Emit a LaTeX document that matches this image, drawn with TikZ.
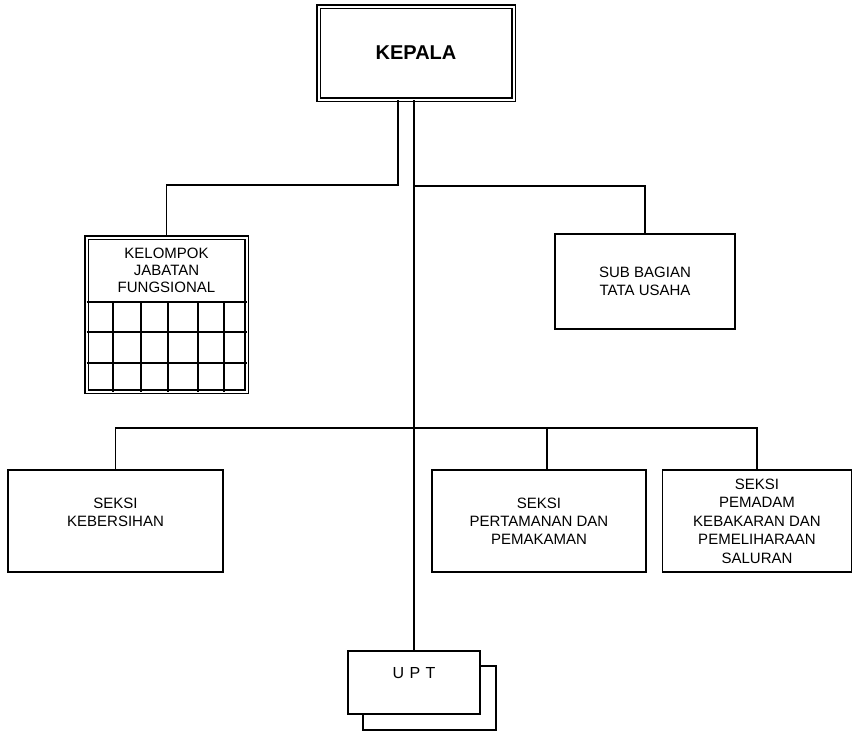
\documentclass[tikz,border=0pt]{standalone}
\usepackage{fontspec}
\setmainfont{Liberation Sans}
\begin{document}
\begin{tikzpicture}[x=1pt,y=-1pt,line width=1.3pt,
  box/.style={draw, rectangle, inner sep=0pt, align=center, font=\fontsize{15}{18}\selectfont},
  dbox/.style={box, double, double distance=2pt, line width=1.2pt},
  txt/.style={inner sep=0pt, align=center, font=\fontsize{15}{17}\selectfont}]
\useasboundingbox (0,0) rectangle (853,732);

% KEPALA
\node[dbox, minimum width=195pt, minimum height=93pt, font=\bfseries\fontsize{20}{24}\selectfont] (kepala) at (416,53) {KEPALA};

% Kelompok Jabatan Fungsional
\node[dbox, minimum width=160pt, minimum height=154pt] (kjf) at (166.5,314.5) {};
\node[txt] (kjft) at (166.5,270) {KELOMPOK\\JABATAN\\FUNGSIONAL};
\draw (86.5,302) -- (246.5,302);
\draw (86.5,332) -- (246.5,332);
\draw (86.5,363) -- (246.5,363);
\foreach \gx in {113,141,168,198,224} \draw (\gx,302) -- (\gx,391.5);

% Sub Bagian Tata Usaha
\node[box, minimum width=180pt, minimum height=95pt] (sub) at (645,281.5) {SUB BAGIAN\\TATA USAHA};

% Seksi
\node[box, minimum width=215pt, minimum height=102pt] (keb) at (115.5,521) {SEKSI\\KEBERSIHAN\\[0pt]\mbox{}};
\node[box, minimum width=214pt, minimum height=102pt] (pert) at (539,521) {SEKSI\\PERTAMANAN DAN\\PEMAKAMAN};
\node[box, minimum width=189pt, minimum height=102pt, font=\fontsize{15}{18.5}\selectfont] (pem) at (757,521) {SEKSI\\PEMADAM\\KEBAKARAN DAN\\PEMELIHARAAN\\SALURAN};

% UPT
\node[box, minimum width=133pt, minimum height=64pt] (uptb) at (429.5,698) {};
\node[box, fill=white, minimum width=132pt, minimum height=63pt] (upt) at (414,682.5) {};
\node[inner sep=0pt, font=\fontsize{16}{18}\selectfont] (upttxt) at (414,673) {U\hspace{5.5pt}P\hspace{5.5pt}T};

% connectors
\coordinate (b1) at (398,185);
\coordinate (b2) at (414,186);
\coordinate (b3) at (414,428);
\draw (kepala.south -| b1) -- (b1) -| (kjf.north);
\draw (kepala.south -| upt.north) -- (upt.north);
\draw (b2) -| (sub.north);
\draw (keb.north) -- (keb.north |- b3) -- (pem.north |- b3) -- (pem.north);
\draw ([xshift=8pt]pert.north) -- ([xshift=8pt]pert.north |- b3);
\end{tikzpicture}
\end{document}
